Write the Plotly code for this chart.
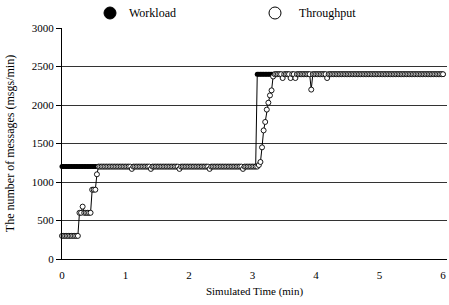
import plotly.graph_objects as go

# Sampling grid: one sample every 1.5 s (0.025 min), 0 .. 6 min
time_min = [round(i * 0.025, 3) for i in range(241)]

workload = (
    [1200] * 20 +
    [1200] * 20 +
    [1200] * 20 +
    [1200] * 20 +
    [1200] * 20 +
    [1200] * 20 +
    [1200, 1200, 1200, 2400, 2400, 2400, 2400, 2400, 2400, 2400,
     2400, 2400, 2400, 2400, 2400, 2400, 2400, 2400, 2400, 2400] +
    [2400] * 20 + [2400] * 20 + [2400] * 20 + [2400] * 20 + [2400] * 20 +
    [2400]
)

throughput = [
    300, 300, 300, 300, 300, 300, 300, 300, 300, 300, 300, 600, 600, 680, 600, 600, 600, 600, 600, 900,
    900, 900, 1100, 1200, 1200, 1200, 1200, 1200, 1200, 1200, 1200, 1200, 1200, 1200, 1200, 1200, 1200, 1200, 1200, 1200,
    1200, 1200, 1200, 1200, 1170, 1200, 1200, 1200, 1200, 1200, 1200, 1200, 1200, 1200, 1200, 1200, 1170, 1200, 1200, 1200,
    1200, 1200, 1200, 1200, 1200, 1200, 1200, 1200, 1200, 1200, 1200, 1200, 1200, 1200, 1170, 1200, 1200, 1200, 1200, 1200,
    1200, 1200, 1200, 1200, 1200, 1200, 1200, 1200, 1200, 1200, 1200, 1200, 1200, 1170, 1200, 1200, 1200, 1200, 1200, 1200,
    1200, 1200, 1200, 1200, 1200, 1200, 1200, 1200, 1200, 1200, 1200, 1200, 1200, 1200, 1170, 1200, 1200, 1200, 1200, 1200,
    1200, 1200, 1200, 1200, 1220, 1260, 1450, 1670, 1780, 1940, 2030, 2125, 2190, 2370, 2400, 2400, 2400, 2400, 2400, 2350,
    2400, 2400, 2400, 2400, 2350, 2400, 2400, 2350, 2400, 2400, 2400, 2400, 2400, 2400, 2400, 2400, 2400, 2200, 2400, 2400,
    2400, 2400, 2400, 2400, 2400, 2400, 2400, 2350, 2400, 2400, 2400, 2400, 2400, 2400, 2400, 2400, 2400, 2400, 2400, 2400,
    2400, 2400, 2400, 2400, 2400, 2400, 2400, 2400, 2400, 2400, 2400, 2400, 2400, 2400, 2400, 2400, 2400, 2400, 2400, 2400,
    2400, 2400, 2400, 2400, 2400, 2400, 2400, 2400, 2400, 2400, 2400, 2400, 2400, 2400, 2400, 2400, 2400, 2400, 2400, 2400,
    2400, 2400, 2400, 2400, 2400, 2400, 2400, 2400, 2400, 2400, 2400, 2400, 2400, 2400, 2400, 2400, 2400, 2400, 2400, 2400,
    2400,
]

x_ticks = [0, 1, 2, 3, 4, 5, 6]
y_ticks = [0, 500, 1000, 1500, 2000, 2500, 3000]
series_names = ["Workload", "Throughput"]

FONT = "Liberation Serif, Times New Roman, serif"

fig = go.Figure()
fig.add_trace(go.Scatter(
    x=time_min, y=workload, name=series_names[0], mode="lines+markers",
    line=dict(color="black", width=1),
    marker=dict(symbol="circle", size=5, color="black"),
    showlegend=False, cliponaxis=False,
))
fig.add_trace(go.Scatter(
    x=time_min, y=throughput, name=series_names[1], mode="lines+markers",
    line=dict(color="black", width=1),
    marker=dict(symbol="circle", size=5, color="white",
                line=dict(color="black", width=0.9)),
    showlegend=False, cliponaxis=False,
))

# Custom legend (markers only) above the plot
L, R, T, B = 62, 2, 28, 46
W, H = 449, 305
pw, ph = W - L - R, H - T - B

def px_to_paper(xp, yp):
    return (xp - L) / pw, (H - B - yp) / ph

legend_items = [(110, 13, "black", series_names[0], 127),
                (275, 13, "white", series_names[1], 297)]
for cx, cy, fill, label, tx in legend_items:
    ax, ay = px_to_paper(cx, cy)
    fig.add_shape(type="circle", xref="paper", yref="paper",
                  xsizemode="pixel", ysizemode="pixel",
                  xanchor=ax, yanchor=ay, x0=-6, x1=6, y0=-6, y1=6,
                  fillcolor=fill, line=dict(color="black", width=1))
    tx_p, ty_p = px_to_paper(tx, cy)
    fig.add_annotation(x=tx_p, y=ty_p, xref="paper", yref="paper",
                       text=label, showarrow=False, xanchor="left",
                       yanchor="middle", font=dict(family=FONT, size=12, color="black"))

fig.update_layout(
    width=W, height=H,
    margin=dict(l=L, r=R, t=T, b=B, autoexpand=False),
    paper_bgcolor="white", plot_bgcolor="white",
    font=dict(family=FONT, size=11, color="black"),
    showlegend=False,
)
fig.update_xaxes(
    range=[0, 6.063], tickvals=x_ticks, ticktext=[str(v) for v in x_ticks],
    showgrid=False, zeroline=False, showline=True, linecolor="black", linewidth=1,
    ticks="", automargin=False, ticklabelstandoff=6,
    title=dict(text="Simulated Time (min)", font=dict(size=11), standoff=7),
    tickfont=dict(size=11),
)
fig.update_yaxes(
    range=[0, 3000], tickvals=y_ticks, ticktext=[str(v) for v in y_ticks],
    showgrid=True, gridcolor="#333333", gridwidth=1,
    zeroline=False, showline=True, linecolor="black", linewidth=1,
    ticks="outside", ticklen=5, tickcolor="black", automargin=False,
    title=dict(text="The number of messages (msgs/min)", font=dict(size=12), standoff=14),
    tickfont=dict(size=11),
)

fig.write_html("out.html", config={"displayModeBar": False},
               post_script="document.body.style.margin='0px';")
